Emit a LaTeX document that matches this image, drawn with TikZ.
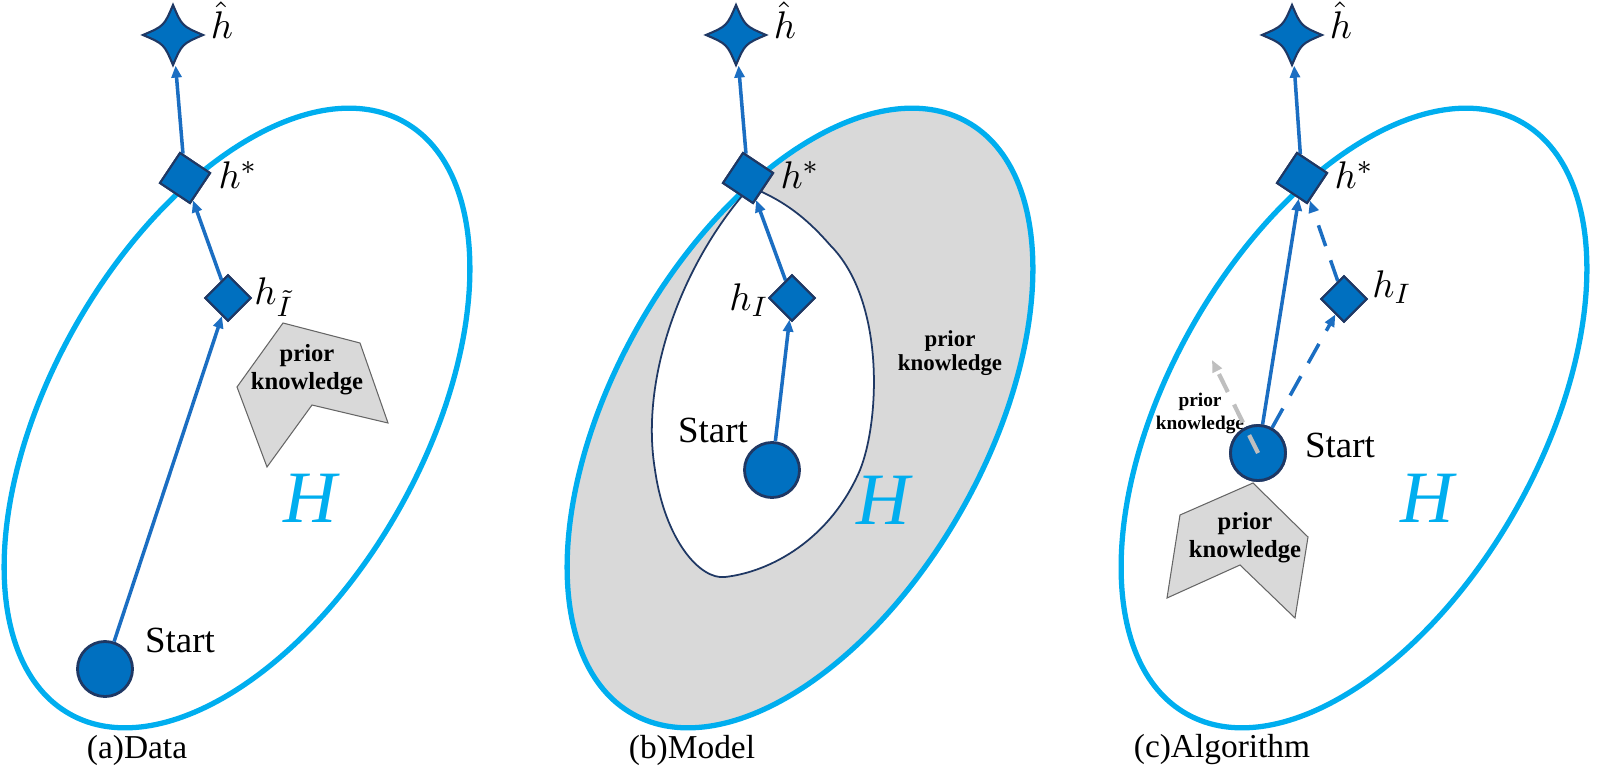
\documentclass[tikz,border=0pt]{standalone}
\usepackage{fontspec}
\setmainfont{Liberation Serif}
\usetikzlibrary{arrows.meta,calc}
\definecolor{cyanH}{HTML}{00AEEF}
\definecolor{nodeblue}{HTML}{0070C0}
\definecolor{navy}{HTML}{1F3864}
\definecolor{arrblue}{HTML}{1B6EC2}
\definecolor{pkgray}{HTML}{D9D9D9}
\begin{document}
\begin{tikzpicture}[x=0.01cm,y=-0.01cm,
  hyp/.style={draw=cyanH,line width=1.5pt},
  dia/.style={draw=navy,fill=nodeblue,line width=0.6pt,shape=rectangle,minimum size=0.36cm,inner sep=0pt},
  diaS/.style={dia,minimum size=0.32cm},
  startn/.style={circle,draw=navy,fill=nodeblue,line width=0.8pt,minimum size=0.55cm,inner sep=0pt},
  starn/.style={circle,minimum size=0.6cm,inner sep=0pt},
  starshape/.style={draw=navy,fill=nodeblue,line width=0.6pt},
  arr/.style={draw=arrblue,line width=1pt,-{Triangle[length=0.12cm,width=0.1cm]}},
  darr/.style={arr,dash pattern=on 0.22cm off 0.15cm},
  lab/.style={font=\fontsize{11}{11}\selectfont,inner sep=0pt},
  startl/.style={font=\fontsize{10.5}{11}\selectfont,inner sep=0pt},
  Hl/.style={text=cyanH,font=\fontsize{21}{21}\selectfont\itshape,inner sep=0pt},
  captxt/.style={font=\fontsize{9.5}{10}\selectfont,inner sep=0pt},
  pk/.style={font=\fontsize{6.5}{7}\selectfont\bfseries,align=center,inner sep=0pt},
  poly/.style={draw=black!60,fill=pkgray,line width=0.3pt}]
\useasboundingbox (0,0) rectangle (1600,773);
\newcommand{\starat}[1]{\path[starshape] ($(#1)+(0,-30)$) .. controls ($(#1)+(9,-9)$) .. ($(#1)+(30,0)$) .. controls ($(#1)+(9,9)$) .. ($(#1)+(0,30)$) .. controls ($(#1)+(-9,9)$) .. ($(#1)+(-30,0)$) .. controls ($(#1)+(-9,-9)$) .. cycle;}
% ===== (a) =====
\draw[hyp,rotate around={-29.5:(237,418)}] (237,418) ellipse [x radius=186,y radius=340];
\path[poly] (283,323) -- (360,343) -- (388,423) -- (312,405) -- (267,467) -- (237,387) -- cycle;
\node[pk,font=\fontsize{7}{8}\selectfont\bfseries] (apk) at (307,370) {prior\\knowledge};
\node[starn] (aT) at (173,35) {};
\node[dia,rotate=-33.7] (aS) at (185,178) {};
\node[diaS,rotate=45] (aI) at (228,298) {};
\node[startn] (aB) at (105,669) {};
\draw[arr] (aB) -- (aI);
\draw[arr] (aI) -- (aS);
\draw[arr] (aS) -- (aT);
\node[dia,rotate=-33.7] at (aS) {};
\node[diaS,rotate=45] at (aI) {};
\node[lab] (aTl) at (222,20) {$\hat{h}$};
\node[lab] (aSl) at (238,175) {$h^{*}$};
\node[lab] (aIl) at (274,297) {$h_{\tilde{I}}$};
\node[startl] (aBl) at (180,640) {Start};
\node[Hl] (aH) at (310,498) {H};
\node[captxt] (acap) at (137,750) {(a)Data};
% ===== (b) =====
\path[hyp,fill=pkgray,rotate around={-29.5:(800,418)}] (800,418) ellipse [x radius=186,y radius=340];
\path[draw=navy,line width=0.5pt,fill=white] (742,196) .. controls (680,270) and (640,380) .. (655,470) .. controls (665,540) and (700,580) .. (725,577) .. controls (770,572) and (830,540) .. (860,470) .. controls (880,420) and (885,300) .. (830,245) .. controls (810,222) and (790,205) .. (762,192) -- cycle;
\node[pk] (bpk) at (950,353) {prior\\knowledge};
\node[starn] (bT) at (736,35) {};
\node[dia,rotate=-33.7] (bS) at (748,178) {};
\node[diaS,rotate=45] (bI) at (792,298) {};
\node[startn] (bB) at (772,470) {};
\draw[arr] (bB) -- (bI);
\draw[arr] (bI) -- (bS);
\draw[arr] (bS) -- (bT);
\node[dia,rotate=-33.7] at (bS) {};
\node[diaS,rotate=45] at (bI) {};
\node[lab] (bTl) at (785,20) {$\hat{h}$};
\node[lab] (bSl) at (800,175) {$h^{*}$};
\node[lab] (bIl) at (749,300) {$h_{I}$};
\node[startl] (bBl) at (713,430) {Start};
\node[Hl] (bH) at (883,500) {H};
\node[captxt] (bcap) at (692,750) {(b)Model};
% ===== (c) =====
\draw[hyp,rotate around={-29.5:(1354,418)}] (1354,418) ellipse [x radius=186,y radius=340];
\path[poly] (1180,515) -- (1253,483) -- (1308,537) -- (1295,618) -- (1240,565) -- (1167,598) -- cycle;
\node[pk,font=\fontsize{7}{8}\selectfont\bfseries] (cpk) at (1245,538) {prior\\knowledge};
\node[pk,font=\fontsize{5.5}{6.5}\selectfont\bfseries] (cpk2) at (1200,413) {prior\\knowledge};
\node[starn] (cT) at (1292,35) {};
\node[dia,rotate=-33.7] (cS) at (1302,178) {};
\node[diaS,rotate=45] (cI) at (1344,299) {};
\node[startn] (cB) at (1258,453) {};
\coordinate (cG) at (1212,360);
\draw[arr] (cB) -- (cS);
\draw[darr] (cB) -- (cI);
\draw[darr] (cI) -- (cS);
\draw[arr] (cS) -- (cT);
\node[startn] at (cB) {};
\draw[draw=black!25,line width=1.2pt,dash pattern=on 0.2cm off 0.14cm,-{Triangle[length=0.12cm,width=0.1cm]}] (cB.center) -- (cG);
\node[dia,rotate=-33.7] at (cS) {};
\node[diaS,rotate=45] at (cI) {};
\node[lab] (cTl) at (1341,20) {$\hat{h}$};
\node[lab] (cSl) at (1354,175) {$h^{*}$};
\node[lab] (cIl) at (1392,287) {$h_{I}$};
\node[startl] (cBl) at (1340,445) {Start};
\node[Hl] (cH) at (1427,498) {H};
\node[captxt] (ccap) at (1222,750) {(c)Algorithm};
% stars
\starat{aT}\starat{bT}\starat{cT}
\end{tikzpicture}
\end{document}
